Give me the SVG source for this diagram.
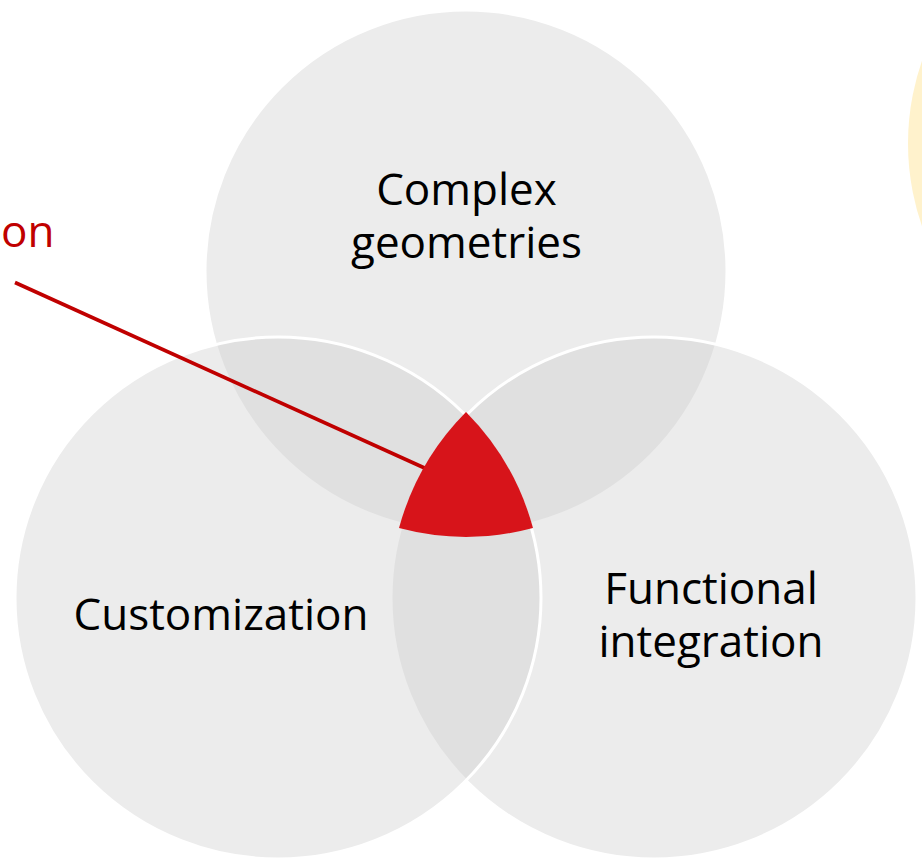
<svg xmlns="http://www.w3.org/2000/svg" width="922" height="865" viewBox="0 0 922 865">
  <style>
    .set { fill: #cfcfcf; fill-opacity: 0.4; stroke: #ffffff; stroke-width: 3; }
    .label { font-family: "Open Sans", "Noto Sans", "Liberation Sans", sans-serif; font-size: 44px; fill: #000000; text-anchor: middle; }
    .callout { font-family: "Open Sans", "Noto Sans", "Liberation Sans", sans-serif; font-size: 44px; fill: #c00000; }
  </style>
  <rect width="922" height="865" fill="#ffffff"/>

  <!-- neighbouring set, mostly off-canvas -->
  <circle id="side-set" cx="1159" cy="143.5" r="251" fill="#fff2cc"/>

  <!-- top set -->
  <g id="complex-geometries">
    <circle class="set" cx="466" cy="271" r="261"/>
    <text class="label" x="466.5" y="205">Complex</text>
    <text class="label" x="466.5" y="258">geometries</text>
  </g>

  <!-- right set -->
  <g id="functional-integration">
    <ellipse class="set" cx="654" cy="598" rx="263" ry="261"/>
  </g>

  <!-- left set -->
  <g id="customization">
    <ellipse class="set" cx="278" cy="598" rx="263" ry="261"/>
  </g>

  <!-- labels drawn above the overlapping fills -->
  <text class="label" x="221" y="630">Customization</text>
  <g id="functional-integration-label">
    <text class="label" x="711" y="604">Functional</text>
    <text class="label" x="711" y="657">integration</text>
  </g>

  <!-- callout -->
  <g id="connectors">
    <line x1="15" y1="282.5" x2="440" y2="475" stroke="#c00000" stroke-width="3.6"/>
  </g>
  <text class="callout" x="1" y="247">on</text>

  <!-- common intersection of the three sets -->
  <g id="intersection">
    <path d="M 466 412 A 263 263 0 0 1 533 528 A 261 261 0 0 1 399 528 A 263 263 0 0 1 466 412 Z" fill="#d7141a"/>
  </g>
</svg>
